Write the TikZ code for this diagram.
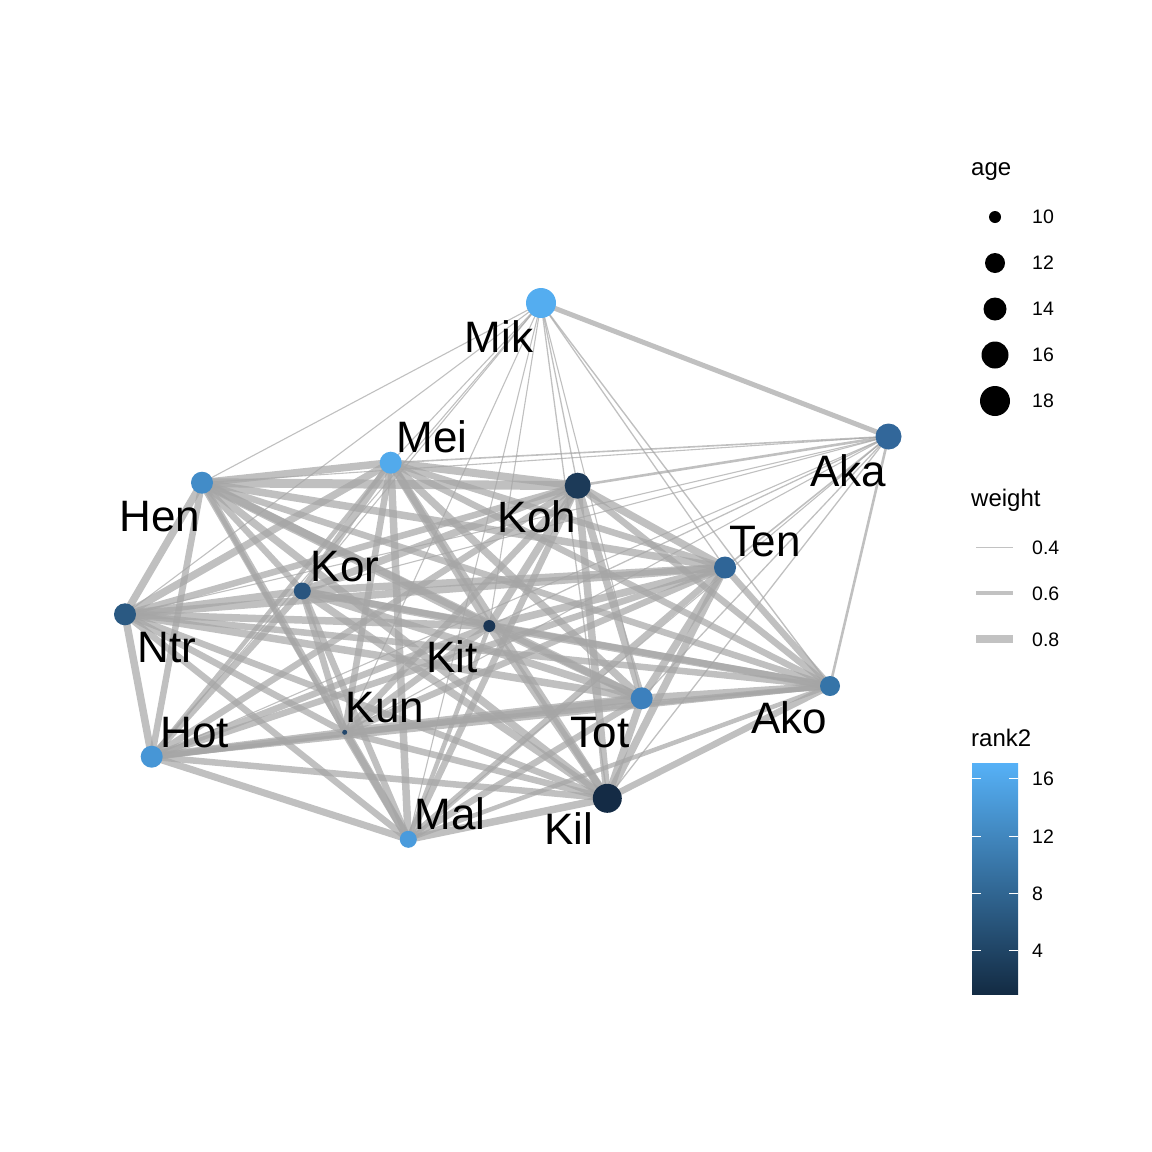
\documentclass[tikz,border=0pt]{standalone}
\usepackage{fontspec}
\setmainfont{Liberation Sans}
\pgfdeclarelayer{background}
\pgfsetlayers{background,main}
\definecolor{edgegray}{RGB}{165,165,165}
\definecolor{keygray}{RGB}{194,194,194}
\definecolor{cMik}{RGB}{84,173,240}
\definecolor{cMei}{RGB}{82,170,236}
\definecolor{cMal}{RGB}{74,155,220}
\definecolor{cHot}{RGB}{71,150,214}
\definecolor{cHen}{RGB}{66,140,200}
\definecolor{cTot}{RGB}{60,128,189}
\definecolor{cAko}{RGB}{53,116,168}
\definecolor{cAka}{RGB}{50,103,154}
\definecolor{cTen}{RGB}{47,101,151}
\definecolor{cNtr}{RGB}{42,89,130}
\definecolor{cKor}{RGB}{41,85,127}
\definecolor{cKun}{RGB}{35,71,107}
\definecolor{cKoh}{RGB}{28,58,88}
\definecolor{cKit}{RGB}{27,54,84}
\definecolor{cKil}{RGB}{20,43,69}
\definecolor{barlow}{RGB}{19,43,67}
\definecolor{barhigh}{RGB}{86,177,247}
\begin{document}
\begin{tikzpicture}[x=1pt,y=-1pt,
  dot/.style={circle, inner sep=0pt, draw=none},
  lbl/.style={anchor=base, inner sep=0pt, font=\fontsize{44}{44}\selectfont},
  edge/.style={draw=edgegray, draw opacity=0.7, line cap=butt},
  legtitle/.style={anchor=base west, inner sep=0pt, font=\fontsize{24}{24}\selectfont},
  legtext/.style={anchor=west, inner sep=0pt, font=\fontsize{19.5}{19.5}\selectfont},
  keyline/.style={draw=keygray, line cap=butt}]
\useasboundingbox (0,0) rectangle (1152,1152);
% nodes
\node[dot, minimum size=30pt, fill=cMik] (Mik) at (541,303) {};
\node[dot, minimum size=26pt, fill=cAka] (Aka) at (888.5,436.5) {};
\node[dot, minimum size=22pt, fill=cMei] (Mei) at (390.7,462.7) {};
\node[dot, minimum size=22pt, fill=cHen] (Hen) at (202,482.7) {};
\node[dot, minimum size=26pt, fill=cKoh] (Koh) at (577.7,485.7) {};
\node[dot, minimum size=22pt, fill=cTen] (Ten) at (725,567.5) {};
\node[dot, minimum size=17pt, fill=cKor] (Kor) at (302.3,591) {};
\node[dot, minimum size=22pt, fill=cNtr] (Ntr) at (125,614.3) {};
\node[dot, minimum size=12pt, fill=cKit] (Kit) at (489.3,626) {};
\node[dot, minimum size=20pt, fill=cAko] (Ako) at (830,686) {};
\node[dot, minimum size=22pt, fill=cTot] (Tot) at (641.7,698.3) {};
\node[dot, minimum size=22pt, fill=cHot] (Hot) at (151.7,756.7) {};
\node[dot, minimum size=5pt, fill=cKun] (Kun) at (344.7,732.3) {};
\node[dot, minimum size=29pt, fill=cKil] (Kil) at (607.3,798.3) {};
\node[dot, minimum size=17pt, fill=cMal] (Mal) at (408.3,839.3) {};
% edges
\begin{pgfonlayer}{background}
\foreach \a/\b/\w in {
 Mik/Aka/5, Mik/Mei/1.1, Mik/Hen/1.1, Mik/Koh/1.3, Mik/Ten/1.3, Mik/Kor/1.1, Mik/Ntr/1.1,
 Mik/Kit/1.1, Mik/Ako/1.4, Mik/Tot/1.1, Mik/Hot/1.1, Mik/Kun/1.1, Mik/Kil/1.3, Mik/Mal/1.1,
 Aka/Koh/2.6, Aka/Ako/2.6, Aka/Ten/1.6, Aka/Mei/1.6, Aka/Hen/1.1, Aka/Kor/1.1, Aka/Ntr/1.1,
 Aka/Kit/1.3, Aka/Tot/1.3, Aka/Hot/1.1, Aka/Kun/1.1, Aka/Kil/1.3, Aka/Mal/1.1,
 Mei/Hen/7.5, Mei/Koh/8, Mei/Ten/6.5, Mei/Kor/7.5, Mei/Ntr/7.5, Mei/Kit/7.5, Mei/Ako/6.5, Mei/Tot/7.5,
 Mei/Hot/4.5, Mei/Kun/6.5, Mei/Kil/7.5, Mei/Mal/7.5,
 Hen/Koh/9, Hen/Ten/7.5, Hen/Kor/6.5, Hen/Ntr/7.5, Hen/Kit/9, Hen/Ako/6.5, Hen/Tot/7.5, Hen/Hot/6.5,
 Hen/Kun/4.5, Hen/Kil/7.5, Hen/Mal/7.5,
 Koh/Ten/7.5, Koh/Kor/7.5, Koh/Ntr/6.5, Koh/Kit/7.5, Koh/Ako/6.5, Koh/Tot/7.5, Koh/Hot/6.5, Koh/Kun/6.5,
 Koh/Kil/7.5, Koh/Mal/6.5,
 Ten/Kor/7.5, Ten/Ntr/7.5, Ten/Kit/7.5, Ten/Ako/6.5, Ten/Tot/7.5, Ten/Hot/6.5, Ten/Kun/6.5, Ten/Kil/7.5, Ten/Mal/6.5,
 Kor/Ntr/7.5, Kor/Kit/7.5, Kor/Ako/6.5, Kor/Tot/7.5, Kor/Hot/6.5, Kor/Kun/6.5, Kor/Kil/7.5, Kor/Mal/6.5,
 Ntr/Kit/7.5, Ntr/Ako/6.5, Ntr/Tot/7.5, Ntr/Hot/7.5, Ntr/Kun/6.5, Ntr/Kil/6.5, Ntr/Mal/6.5,
 Kit/Ako/7.5, Kit/Tot/7.5, Kit/Hot/6.5, Kit/Kun/6.5, Kit/Kil/7.5, Kit/Mal/4.5,
 Ako/Tot/7.5, Ako/Hot/5, Ako/Kun/5.5, Ako/Kil/6.5, Ako/Mal/4.5,
 Tot/Hot/6.5, Tot/Kun/9, Tot/Kil/7.5, Tot/Mal/6.5,
 Hot/Kun/7.5, Hot/Kil/6.5, Hot/Mal/7,
 Kun/Kil/6.5, Kun/Mal/7.5, Kil/Mal/7.5}
 \draw[edge, line width=\w pt] (\a.center) -- (\b.center);
\end{pgfonlayer}
% labels
\node[lbl] (Mik-l) at (499,352) {Mik};
\node[lbl] (Mei-l) at (432,452) {Mei};
\node[lbl] (Hen-l) at (160,531) {Hen};
\node[lbl] (Koh-l) at (537,532) {Koh};
\node[lbl] (Kor-l) at (345,581) {Kor};
\node[lbl] (Ntr-l) at (167,662) {Ntr};
\node[lbl] (Kit-l) at (452,672) {Kit};
\node[lbl] (Kun-l) at (385,722) {Kun};
\node[lbl] (Hot-l) at (195,747) {Hot};
\node[lbl] (Mal-l) at (450,829) {Mal};
\node[lbl] (Kil-l) at (569,844) {Kil};
\node[lbl] (Tot-l) at (600,747) {Tot};
\node[lbl] (Ako-l) at (789,733) {Ako};
\node[lbl] (Ten-l) at (765,556) {Ten};
\node[lbl] (Aka-l) at (848,486) {Aka};
% legend: age
\node[legtitle] (ageT) at (971,175) {age};
\node[dot, fill=black, minimum size=12pt] (a10) at (995,217) {};
\node[dot, fill=black, minimum size=20pt] (a12) at (995,263) {};
\node[dot, fill=black, minimum size=23pt] (a14) at (995,309) {};
\node[dot, fill=black, minimum size=27pt] (a16) at (995,355) {};
\node[dot, fill=black, minimum size=30pt] (a18) at (995,401) {};
\node[legtext] (a10t) at (1032,217) {10};
\node[legtext] (a12t) at (1032,263) {12};
\node[legtext] (a14t) at (1032,309) {14};
\node[legtext] (a16t) at (1032,355) {16};
\node[legtext] (a18t) at (1032,401) {18};
% legend: weight
\node[legtitle] (wT) at (971,506) {weight};
\draw[keyline, line width=1pt] (976,547) -- (1013,547);
\draw[keyline, line width=4pt] (976,593) -- (1013,593);
\draw[keyline, line width=7.5pt] (976,639) -- (1013,639);
\node[legtext] (w4) at (1032,548) {0.4};
\node[legtext] (w6) at (1032,594) {0.6};
\node[legtext] (w8) at (1032,640) {0.8};
% legend: rank2
\node[legtitle] (rT) at (971,746) {rank2};
\shade[top color=barhigh, bottom color=barlow] (972,763) rectangle (1018,994);
\foreach \y in {778,836,893,950}
 \draw[white, line width=1pt] (972,\y) -- (981,\y) (1009,\y) -- (1018,\y);
\node[legtext] (r16) at (1032,779) {16};
\node[legtext] (r12) at (1032,837) {12};
\node[legtext] (r8) at (1032,894) {8};
\node[legtext] (r4) at (1032,951) {4};
\end{tikzpicture}
\end{document}
